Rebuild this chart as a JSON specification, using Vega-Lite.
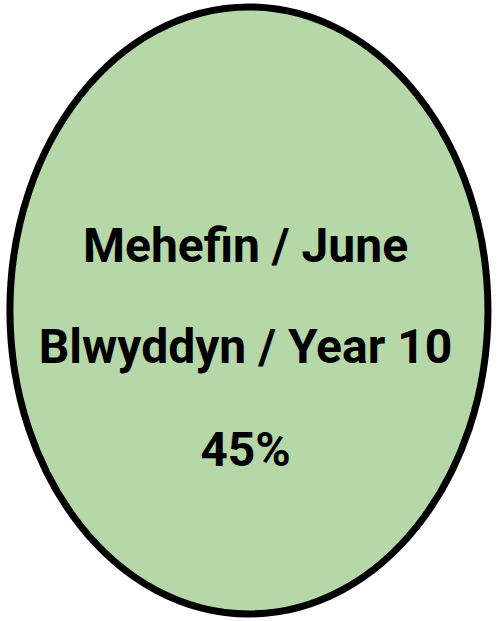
{
  "$schema": "https://vega.github.io/schema/vega-lite/v6.json",
  "width": 498,
  "height": 621,
  "autosize": {"type": "fit", "contains": "padding"},
  "padding": 0,
  "background": "white",
  "config": {"view": {"stroke": null}},
  "datasets": {
    "shape": [{"cx": 252.5, "cy": 313}],
    "labels": [
      {"label": "Mehefin / June", "lx": 249, "ly": 263},
      {"label": "Blwyddyn / Year 10", "lx": 249, "ly": 367},
      {"label": "45%", "lx": 249, "ly": 472}
    ]
  },
  "layer": [
    {
      "data": {"name": "shape"},
      "mark": {
        "type": "point",
        "shape": "M0,-1C0.4349,-1,0.7875,-0.5523,0.7875,0C0.7875,0.5523,0.4349,1,0,1C-0.4349,1,-0.7875,0.5523,-0.7875,0C-0.7875,-0.5523,-0.4349,-1,0,-1Z",
        "size": 368449,
        "filled": true,
        "fill": "#b6d7a8",
        "stroke": "black",
        "strokeWidth": 7,
        "opacity": 1
      },
      "encoding": {
        "x": {"field": "cx", "type": "quantitative", "scale": {"domain": [0, 498]}, "axis": null},
        "y": {"field": "cy", "type": "quantitative", "scale": {"domain": [621, 0]}, "axis": null}
      }
    },
    {
      "data": {"name": "labels"},
      "mark": {
        "type": "text",
        "font": "Roboto",
        "fontWeight": "bold",
        "fontSize": 48,
        "color": "black",
        "align": "center",
        "baseline": "alphabetic"
      },
      "encoding": {
        "x": {"field": "lx", "type": "quantitative", "scale": {"domain": [0, 498]}, "axis": null},
        "y": {"field": "ly", "type": "quantitative", "scale": {"domain": [621, 0]}, "axis": null},
        "text": {"field": "label", "type": "nominal"}
      }
    }
  ]
}
